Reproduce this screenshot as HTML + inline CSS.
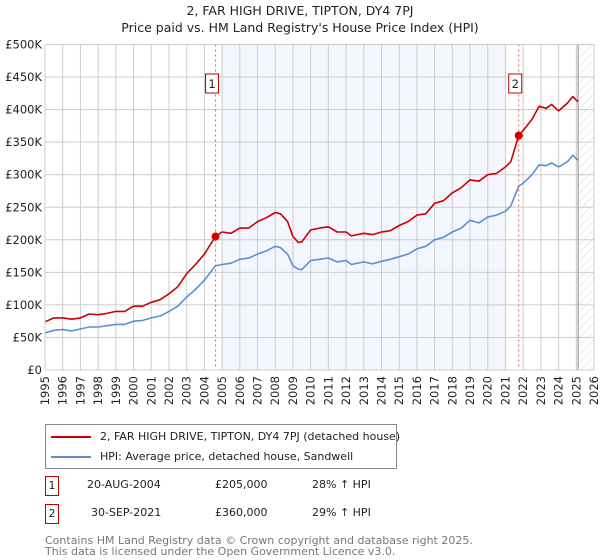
<!DOCTYPE html>
<html><head><meta charset="utf-8"><style>
body{margin:0;background:#fff;font-family:"DejaVu Sans","Liberation Sans",sans-serif;}
#wrap{position:relative;width:600px;height:560px;overflow:hidden;}
svg{position:absolute;left:0;top:0;}
svg text{font-family:"DejaVu Sans","Liberation Sans",sans-serif;}
</style></head><body><div id="wrap">
<svg id="chart" width="600" height="560"></svg>
</div>
<script>
const years=[1995,1995.5,1996,1996.5,1997,1997.5,1998,1998.5,1999,1999.5,2000,2000.5,2001,2001.5,2002,2002.5,2003,2003.5,2004,2004.63,2005,2005.5,2006,2006.5,2007,2007.5,2008,2008.3,2008.7,2009,2009.3,2009.5,2010,2010.5,2011,2011.5,2012,2012.3,2013,2013.5,2014,2014.5,2015,2015.5,2016,2016.5,2017,2017.5,2018,2018.5,2019,2019.5,2020,2020.5,2021,2021.3,2021.75,2022,2022.5,2022.9,2023.3,2023.6,2024,2024.5,2024.8,2025.1];
const priceSeries=[74,80,80,78,80,86,85,87,90,90,98,98,104,108,117,128,148,162,178,205,212,210,218,218,228,234,242,240,228,205,196,197,215,218,220,212,212,206,210,208,212,214,222,228,238,240,256,260,272,280,292,290,300,302,312,320,360,368,385,405,402,408,398,410,420,412];
const hpiSeries=[57,61,62,60,63,66,66,68,70,70,75,76,80,83,90,98,112,124,138,160,162,164,170,172,178,183,190,188,178,160,155,154,168,170,172,166,168,162,166,163,167,170,174,178,186,190,200,204,212,218,230,226,235,238,244,252,282,287,300,315,314,318,312,320,330,322];
const yTicks=[0,50,100,150,200,250,300,350,400,450,500];
const yTickLabels=["£0","£50K","£100K","£150K","£200K","£250K","£300K","£350K","£400K","£450K","£500K"];
const xTicks=[1995,1996,1997,1998,1999,2000,2001,2002,2003,2004,2005,2006,2007,2008,2009,2010,2011,2012,2013,2014,2015,2016,2017,2018,2019,2020,2021,2022,2023,2024,2025,2026];
const sales=[{n:"1",year:2004.63,value:205},{n:"2",year:2021.75,value:360}];

const X0=45,X1=594,Y0=370,Y1=44.5;
const xs=y=>X0+(y-1995)/(2026-1995)*(X1-X0);
const ys=v=>Y0-v/500*(Y0-Y1);
const svg=document.getElementById('chart');
const NS='http://www.w3.org/2000/svg';
function mk(tag,attrs,parent){const e=document.createElementNS(NS,tag);for(const k in attrs)e.setAttribute(k,attrs[k]);(parent||svg).appendChild(e);return e;}

const defs=mk('defs',{});
const pat=mk('pattern',{id:'hatch',width:6,height:6,patternUnits:'userSpaceOnUse',patternTransform:'rotate(45)'},defs);
mk('line',{x1:0,y1:0,x2:0,y2:6,stroke:'#ccc','stroke-width':0.8},pat);
const shade=mk('rect',{x:xs(2005),y:Y1,width:xs(2021)-xs(2005),height:Y0-Y1,fill:'#f3f6fd'});


const hatch=mk('rect',{x:xs(2025.1),y:Y1,width:X1-xs(2025.1),height:Y0-Y1,fill:'url(#hatch)'});



yTicks.forEach((t,i)=>{
  const l=mk('line',{x1:X0,x2:X1,y1:ys(t),y2:ys(t),stroke:'#ccc','stroke-width':1});
  
  
  const tx=mk('text',{x:X0-3,y:ys(t)+4,'text-anchor':'end','font-size':11.5,fill:'#222'});
  tx.textContent=yTickLabels[i];
  
  
});
xTicks.forEach(t=>{
  const l=mk('line',{x1:xs(t),x2:xs(t),y1:Y1,y2:Y0,stroke:'#ccc','stroke-width':1});
  
  
  const tx=mk('text',{x:0,y:0,'font-size':11.5,fill:'#222','text-anchor':'end',transform:`translate(${xs(t)+4},${Y0+6}) rotate(-90)`});
  tx.textContent=t;
  
  
});
const vl=mk('line',{x1:xs(2025.1),x2:xs(2025.1),y1:Y1,y2:Y0,stroke:'#888','stroke-width':1});



function line(vals,color,name){
  const d=vals.map((v,i)=>(i?'L':'M')+xs(years[i]).toFixed(1)+','+ys(v).toFixed(1)).join('');
  const p=mk('path',{d,fill:'none',stroke:color,'stroke-width':1.6,'stroke-linejoin':'round'});
  
  
}
line(hpiSeries,'#5b8fd4','hpi-line');
line(priceSeries,'#cc0000','price-paid-line');

sales.forEach(s=>{
  const dl=mk('line',{x1:xs(s.year),x2:xs(s.year),y1:Y1,y2:Y0,stroke:'#e06060','stroke-width':1,'stroke-dasharray':'2,3'});
  
  
  const c=mk('circle',{cx:xs(s.year),cy:ys(s.value),r:4,fill:'#cc0000'});
  
  
  const bx=mk('rect',{x:xs(s.year)-10,y:74,width:13,height:19,fill:'#fff',stroke:'#b00','stroke-width':1});
  
  
  const t=mk('text',{x:xs(s.year)-3.5,y:88,'text-anchor':'middle','font-size':11.5,fill:'#222'});
  t.textContent=s.n;
  
  
});
const fr=mk('rect',{x:X0,y:Y1,width:X1-X0,height:Y0-Y1,fill:'none',stroke:'#ccc','stroke-width':1});


</script>
<div style="position:absolute;left:0;top:2px;width:600px;text-align:center;font-size:12.5px;line-height:17px;color:#222;">2, FAR HIGH DRIVE, TIPTON, DY4 7PJ<br>Price paid vs. HM Land Registry's House Price Index (HPI)</div>
<div style="position:absolute;left:45px;top:424px;width:350px;height:43px;border:1px solid #888;font-size:11px;color:#222;">
 <div style="position:absolute;left:5px;top:5px;white-space:nowrap;"><span style="display:inline-block;width:40px;height:2px;background:#cc0000;vertical-align:middle;margin-right:9px;"></span>2, FAR HIGH DRIVE, TIPTON, DY4 7PJ (detached house)</div>
 <div style="position:absolute;left:5px;top:25px;white-space:nowrap;"><span style="display:inline-block;width:40px;height:2px;background:#5b8fd4;vertical-align:middle;margin-right:9px;"></span>HPI: Average price, detached house, Sandwell</div>
</div>
<div style="position:absolute;left:45px;top:476px;font-size:11px;color:#222;">
 <div style="position:absolute;top:0;white-space:nowrap;"><span style="position:absolute;left:0;top:0;width:12px;height:18px;border:1px solid #b00;text-align:center;line-height:18px;">1</span><span style="position:absolute;left:42px;top:2px;">20-AUG-2004</span><span style="position:absolute;left:170px;top:2px;">£205,000</span><span style="position:absolute;left:267px;top:2px;">28% ↑ HPI</span></div>
 <div style="position:absolute;top:28px;white-space:nowrap;"><span style="position:absolute;left:0;top:0;width:12px;height:18px;border:1px solid #b00;text-align:center;line-height:18px;">2</span><span style="position:absolute;left:46px;top:2px;">30-SEP-2021</span><span style="position:absolute;left:170px;top:2px;">£360,000</span><span style="position:absolute;left:267px;top:2px;">29% ↑ HPI</span></div>
</div>
<div style="position:absolute;left:45px;top:535px;font-size:11px;line-height:11px;color:#777;white-space:nowrap;">Contains HM Land Registry data © Crown copyright and database right 2025.<br>This data is licensed under the Open Government Licence v3.0.</div>
</body></html>
